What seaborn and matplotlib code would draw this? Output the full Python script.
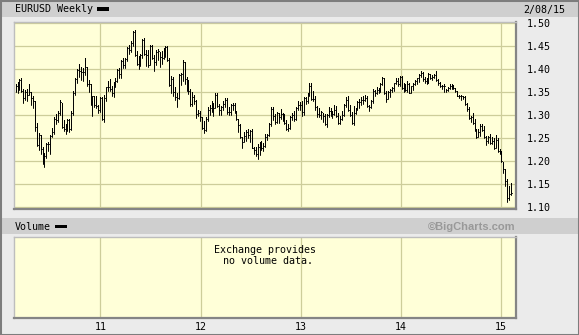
import matplotlib
matplotlib.use("Agg")
import matplotlib.pyplot as plt
import matplotlib.dates as mdates
from matplotlib.patches import Rectangle
import pandas as pd
import seaborn as sns

# ---------------- data (weekly EURUSD) ----------------
first_week = "2010-02-26"
closes = [
    # 2010
    1.363, 1.362, 1.376, 1.353, 1.337, 1.351, 1.345, 1.350, 1.337, 1.330, 1.275, 1.236, 1.257, 1.227, 1.197,
    1.212, 1.237, 1.237, 1.255, 1.263, 1.293, 1.290, 1.305, 1.328, 1.275, 1.271, 1.276, 1.289, 1.271, 1.305,
    1.349, 1.378, 1.399, 1.397, 1.395, 1.394, 1.404, 1.369, 1.367, 1.324, 1.341, 1.323, 1.320, 1.311, 1.337,
    # 2011
    1.291, 1.338, 1.361, 1.361, 1.358, 1.349, 1.369, 1.375, 1.398, 1.390, 1.418, 1.409, 1.423, 1.447, 1.443,
    1.457, 1.481, 1.432, 1.412, 1.416, 1.432, 1.464, 1.434, 1.431, 1.410, 1.450, 1.425, 1.416, 1.438, 1.440,
    1.426, 1.424, 1.439, 1.449, 1.421, 1.365, 1.379, 1.350, 1.339, 1.337, 1.387, 1.389, 1.415, 1.379, 1.375,
    1.352, 1.324, 1.340, 1.330, 1.302, 1.305, 1.296,
    # 2012
    1.272, 1.268, 1.293, 1.312, 1.315, 1.320, 1.316, 1.345, 1.320, 1.311, 1.318, 1.324, 1.334, 1.308, 1.307,
    1.323, 1.323, 1.309, 1.292, 1.278, 1.252, 1.243, 1.256, 1.264, 1.257, 1.266, 1.229, 1.224, 1.216, 1.232,
    1.239, 1.229, 1.234, 1.252, 1.258, 1.282, 1.313, 1.298, 1.286, 1.304, 1.296, 1.302, 1.294, 1.284, 1.271,
    1.272, 1.297, 1.300, 1.292, 1.316, 1.322, 1.322,
    # 2013
    1.307, 1.338, 1.331, 1.346, 1.364, 1.336, 1.336, 1.319, 1.302, 1.301, 1.307, 1.299, 1.282, 1.300, 1.310,
    1.305, 1.303, 1.311, 1.299, 1.284, 1.293, 1.300, 1.322, 1.334, 1.312, 1.301, 1.283, 1.306, 1.314, 1.328,
    1.328, 1.334, 1.334, 1.338, 1.321, 1.318, 1.330, 1.352, 1.349, 1.356, 1.354, 1.368, 1.381, 1.349, 1.336,
    1.350, 1.356, 1.359, 1.370, 1.375, 1.367, 1.384,
    # 2014
    1.359, 1.367, 1.354, 1.368, 1.349, 1.363, 1.369, 1.374, 1.380, 1.387, 1.391, 1.378, 1.375, 1.370, 1.389,
    1.381, 1.383, 1.387, 1.376, 1.370, 1.363, 1.364, 1.364, 1.354, 1.360, 1.364, 1.359, 1.360, 1.352, 1.343,
    1.343, 1.341, 1.340, 1.324, 1.313, 1.295, 1.296, 1.283, 1.268, 1.252, 1.263, 1.276, 1.267, 1.252, 1.245,
    1.253, 1.239, 1.245, 1.228, 1.247, 1.223, 1.218,
    # 2015
    1.200, 1.184, 1.157, 1.120, 1.129, 1.131,
]
highs = [
    1.368, 1.373, 1.378, 1.380, 1.358, 1.355, 1.358, 1.369, 1.350, 1.341, 1.330, 1.283, 1.262, 1.257, 1.230,
    1.218, 1.239, 1.243, 1.258, 1.272, 1.297, 1.302, 1.310, 1.333, 1.326, 1.290, 1.280, 1.293, 1.291, 1.310,
    1.352, 1.380, 1.400, 1.412, 1.404, 1.403, 1.424, 1.406, 1.377, 1.369, 1.343, 1.343, 1.343, 1.323, 1.340,
    1.340, 1.344, 1.362, 1.375, 1.379, 1.363, 1.372, 1.382, 1.400, 1.402, 1.420, 1.425, 1.425, 1.449, 1.452,
    1.461, 1.483, 1.485, 1.440, 1.428, 1.434, 1.466, 1.468, 1.443, 1.442, 1.452, 1.453, 1.430, 1.442, 1.444,
    1.437, 1.440, 1.446, 1.450, 1.451, 1.425, 1.385, 1.384, 1.362, 1.348, 1.389, 1.391, 1.421, 1.416, 1.384,
    1.377, 1.357, 1.350, 1.345, 1.333, 1.312, 1.310,
    1.297, 1.288, 1.296, 1.318, 1.323, 1.332, 1.326, 1.348, 1.349, 1.325, 1.320, 1.330, 1.338, 1.337, 1.318,
    1.324, 1.327, 1.326, 1.310, 1.292, 1.280, 1.253, 1.263, 1.268, 1.270, 1.268, 1.270, 1.232, 1.232, 1.238,
    1.241, 1.244, 1.239, 1.259, 1.260, 1.284, 1.317, 1.317, 1.303, 1.307, 1.306, 1.314, 1.306, 1.302, 1.289,
    1.280, 1.298, 1.306, 1.309, 1.318, 1.331, 1.328,
    1.330, 1.340, 1.340, 1.348, 1.370, 1.371, 1.352, 1.343, 1.320, 1.315, 1.310, 1.305, 1.302, 1.303, 1.318,
    1.316, 1.310, 1.322, 1.320, 1.304, 1.299, 1.310, 1.324, 1.340, 1.343, 1.322, 1.307, 1.320, 1.316, 1.330,
    1.335, 1.340, 1.341, 1.345, 1.342, 1.323, 1.334, 1.357, 1.355, 1.362, 1.359, 1.371, 1.383, 1.382, 1.352,
    1.352, 1.358, 1.362, 1.371, 1.381, 1.381, 1.386,
    1.386, 1.370, 1.369, 1.374, 1.371, 1.364, 1.371, 1.377, 1.382, 1.389, 1.397, 1.395, 1.384, 1.381, 1.391,
    1.389, 1.387, 1.390, 1.397, 1.378, 1.372, 1.366, 1.367, 1.358, 1.362, 1.367, 1.369, 1.365, 1.360, 1.353,
    1.345, 1.345, 1.343, 1.341, 1.326, 1.318, 1.299, 1.305, 1.292, 1.270, 1.271, 1.280, 1.282, 1.277, 1.254,
    1.256, 1.260, 1.253, 1.250, 1.257, 1.251, 1.226,
    1.222, 1.199, 1.184, 1.162, 1.147, 1.153,
]
lows = [
    1.350, 1.348, 1.356, 1.350, 1.327, 1.334, 1.330, 1.344, 1.323, 1.315, 1.265, 1.234, 1.224, 1.216, 1.195,
    1.188, 1.208, 1.222, 1.216, 1.252, 1.260, 1.280, 1.285, 1.300, 1.272, 1.266, 1.259, 1.265, 1.263, 1.268,
    1.300, 1.345, 1.370, 1.383, 1.376, 1.375, 1.388, 1.364, 1.350, 1.322, 1.298, 1.317, 1.315, 1.304, 1.308,
    1.289, 1.286, 1.331, 1.352, 1.353, 1.343, 1.340, 1.362, 1.373, 1.381, 1.380, 1.403, 1.402, 1.419, 1.434,
    1.438, 1.451, 1.428, 1.410, 1.400, 1.407, 1.424, 1.431, 1.408, 1.405, 1.410, 1.422, 1.397, 1.409, 1.421,
    1.405, 1.411, 1.423, 1.427, 1.418, 1.363, 1.349, 1.343, 1.333, 1.318, 1.336, 1.366, 1.375, 1.367, 1.353,
    1.347, 1.321, 1.321, 1.325, 1.294, 1.298, 1.287,
    1.270, 1.262, 1.265, 1.288, 1.300, 1.307, 1.298, 1.315, 1.318, 1.300, 1.300, 1.312, 1.318, 1.303, 1.300,
    1.301, 1.312, 1.304, 1.289, 1.264, 1.250, 1.229, 1.241, 1.245, 1.250, 1.241, 1.228, 1.216, 1.212, 1.206,
    1.214, 1.225, 1.223, 1.231, 1.246, 1.256, 1.276, 1.290, 1.280, 1.283, 1.284, 1.293, 1.288, 1.280, 1.268,
    1.266, 1.271, 1.290, 1.288, 1.290, 1.311, 1.312,
    1.299, 1.300, 1.325, 1.327, 1.343, 1.334, 1.330, 1.312, 1.297, 1.296, 1.293, 1.285, 1.279, 1.275, 1.297,
    1.298, 1.295, 1.300, 1.296, 1.281, 1.282, 1.289, 1.299, 1.319, 1.310, 1.298, 1.280, 1.278, 1.302, 1.312,
    1.316, 1.323, 1.325, 1.330, 1.318, 1.310, 1.316, 1.327, 1.343, 1.346, 1.349, 1.350, 1.365, 1.346, 1.329,
    1.335, 1.340, 1.350, 1.353, 1.368, 1.364, 1.364,
    1.357, 1.351, 1.352, 1.351, 1.348, 1.348, 1.354, 1.366, 1.367, 1.373, 1.383, 1.374, 1.370, 1.367, 1.371,
    1.379, 1.377, 1.380, 1.374, 1.365, 1.361, 1.358, 1.350, 1.351, 1.352, 1.357, 1.357, 1.357, 1.350, 1.342,
    1.337, 1.333, 1.335, 1.323, 1.310, 1.292, 1.286, 1.282, 1.266, 1.250, 1.253, 1.256, 1.265, 1.250, 1.236,
    1.240, 1.237, 1.238, 1.227, 1.228, 1.221, 1.216,
    1.199, 1.175, 1.146, 1.112, 1.116, 1.127,
]
price_ticks = [1.10, 1.15, 1.20, 1.25, 1.30, 1.35, 1.40, 1.45, 1.50]
year_ticks = ["2011-01-01", "2012-01-01", "2013-01-01", "2014-01-01", "2015-01-01"]
year_labels = ["11", "12", "13", "14", "15"]
title_text = "EURUSD Weekly"
date_text = "2/08/15"
volume_text = "Volume"
credit_text = "\u00a9BigCharts.com"
novol_text = "Exchange provides\n no volume data."

# ---------------- styling ----------------
BODY = "#ebebeb"
BAND = "#cfcfcf"
PLOT_BG = "#ffffd8"
GRID = "#cdcd9a"
W, H = 579, 335

sns.set_theme(style="white")
plt.rcParams["font.family"] = ["DejaVu Sans Mono", "DejaVu Sans"]

fig = plt.figure(figsize=(W / 100, H / 100), dpi=100)
fig.patch.set_facecolor(BODY)


def fig_rect(x0, y0, x1, y1, **kw):
    fig.add_artist(Rectangle((x0 / W, 1 - y1 / H), (x1 - x0) / W, (y1 - y0) / H,
                             transform=fig.transFigure, **kw))


# grey bands
fig_rect(0, 1, W, 17, facecolor=BAND, edgecolor="none", zorder=0)
fig_rect(0, 218, W, 234, facecolor=BAND, edgecolor="none", zorder=0)
# legend swatches
fig_rect(97, 7.5, 109, 11, facecolor="black", edgecolor="none", zorder=3)
fig_rect(55, 224.5, 67, 228, facecolor="black", edgecolor="none", zorder=3)
# outer border
fig_rect(0, 0, W, H, facecolor="none", edgecolor="#7d7d7d", lw=2.2, zorder=5)

fig.text(15 / W, 1 - 9.5 / H, title_text, fontsize=7.2, va="center", ha="left", color="black")
fig.text(565 / W, 1 - 9.5 / H, date_text, fontsize=7.2, va="center", ha="right", color="black")
fig.text(15 / W, 1 - 226.5 / H, volume_text, fontsize=7.2, va="center", ha="left", color="black")
fig.text(516 / W, 1 - 226.5 / H, credit_text, fontsize=8, fontweight="bold",
         family=["Liberation Sans", "DejaVu Sans"], va="center", ha="right", color="#999999")

# ---------------- price panel ----------------
dates = pd.date_range(first_week, periods=len(closes), freq="W-FRI")
df = pd.DataFrame({"date": dates, "high": highs, "low": lows, "close": closes})
tick = pd.Timedelta(days=3.5)
rows = []
for i, r in enumerate(df.itertuples(index=False)):
    rows += [(i, r.date, r.low), (i, r.date, r.high), (i, r.date, r.close), (i, r.date + tick, r.close)]
bars = pd.DataFrame(rows, columns=["week", "date", "price"])

xmin, xmax = pd.Timestamp("2010-02-20"), pd.Timestamp("2015-02-24")
year_pos = mdates.date2num(pd.to_datetime(year_ticks))

ax = fig.add_axes([14 / W, 1 - 209 / H, 502 / W, 187 / H])
ax.set_facecolor(PLOT_BG)
sns.lineplot(data=bars, x="date", y="price", units="week", estimator=None, sort=False,
             color="black", lw=0.7, ax=ax, legend=False, zorder=3)
ax.set_xlim(xmin, xmax)
ax.set_ylim(1.0963, 1.5028)
ax.set_xticks(year_pos)
ax.set_xticklabels([])
ax.set_yticks(price_ticks)
ax.set_yticklabels([f"{v:.2f}" for v in price_ticks])
ax.yaxis.tick_right()
ax.tick_params(axis="y", length=0, pad=8, labelsize=7.2, labelcolor="black")
ax.tick_params(axis="x", length=0)
ax.grid(True, color=GRID, lw=0.9, zorder=0)
ax.set_axisbelow(True)
ax.set_xlabel("")
ax.set_ylabel("")

# ---------------- volume panel ----------------
vax = fig.add_axes([14 / W, 1 - 318 / H, 502 / W, 81 / H])
vax.set_facecolor(PLOT_BG)
vax.set_xlim(xmin, xmax)
vax.set_ylim(0, 1)
vax.set_xticks(year_pos)
vax.set_xticklabels(year_labels)
vax.set_yticks([])
vax.tick_params(axis="x", length=0, pad=3, labelsize=7.2, labelcolor="black")
vax.grid(True, axis="x", color=GRID, lw=0.9, zorder=0)
vax.set_axisbelow(True)
vax.text((265 - 14) / 502, 1 - (245 - 237) / 81, novol_text, transform=vax.transAxes,
         ha="center", va="top", fontsize=7.2, color="black", linespacing=1.15)

for a in (ax, vax):
    for side in ("top", "left"):
        a.spines[side].set_color("#bdbdbd")
        a.spines[side].set_linewidth(1.0)
    for side in ("bottom", "right"):
        a.spines[side].set_color("#858585")
        a.spines[side].set_linewidth(1.6)

fig.savefig("out.png", dpi=100, facecolor=fig.get_facecolor())
